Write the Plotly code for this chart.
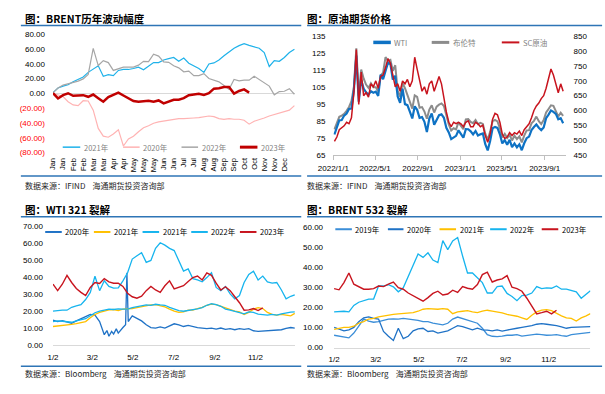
import plotly.graph_objects as go

W, H = 605, 394


def px(x):
    return x / W


def py(y):
    return 1 - y / H


# ---------------- Panel 1: BRENT yearly swing (trading-day index) ----------------
p1_index = [0, 5, 10, 15, 20, 25, 30, 35, 40, 45, 50, 55, 60, 65, 70, 75, 80, 85, 90, 95,
            100, 105, 110, 115, 120, 125, 130, 135, 140, 145, 150, 155, 160, 165, 170, 175,
            180, 185, 190, 195, 200, 205, 210, 215, 220, 225, 230, 235, 240]
p1_2021 = [1.0, 7.3, 9.9, 11.7, 15.7, 18.8, 22.3, 28.5, 32.9, 37.3, 23.2, 25.4, 24.1, 31.1,
           32.4, 32.4, 33.7, 35.5, 32.0, 36.4, 41.7, 41.7, 45.2, 47.0, 48.7, 43.4, 47.9, 40.8,
           37.3, 33.7, 28.5, 39.9, 41.2, 45.2, 50.9, 55.8, 61.1, 64.6, 67.2, 65.0, 63.3, 61.1,
           55.3, 36.4, 44.3, 43.4, 48.7, 55.3, 59.8]
p1_2020 = [0.0, -2.4, -4.2, -11.2, -15.6, -16.5, -9.9, -10.3, -22.7, -47.4, -57.9, -59.3,
           -54.9, -49.1, -71.2, -61.5, -57.9, -51.8, -46.5, -43.8, -40.3, -38.5, -37.2, -35.9,
           -35.0, -34.1, -34.1, -33.3, -33.3, -32.8, -31.5, -30.6, -31.5, -34.1, -35.0, -34.1,
           -35.0, -35.0, -36.3, -41.6, -37.7, -35.9, -33.3, -30.6, -28.4, -26.2, -24.4, -22.7,
           -16.5]
p1_2022 = [1.0, 7.3, 11.3, 13.0, 14.8, 16.6, 19.6, 25.8, 61.0, 37.7, 44.3, 41.7, 31.1, 33.3,
           35.5, 35.5, 35.5, 38.2, 43.4, 43.0, 53.1, 50.5, 42.6, 42.1, 37.3, 34.6, 29.3, 30.2,
           24.1, 24.1, 26.7, 20.1, 17.9, 15.7, 10.8, 5.5, 18.8, 17.0, 17.9, 17.9, 23.2, 18.8,
           13.5, 9.9, -1.9, 2.5, 2.9, 6.4, -1.1]
p1_2023 = [0.5, -6.8, -2.4, 0.2, -3.3, -3.3, -2.4, -4.6, -1.5, -6.4, -11.2, -5.0, -1.9, 1.1,
           -2.8, -6.8, -10.3, -11.2, -10.3, -9.9, -11.2, -9.5, -13.4, -11.2, -8.6, -8.6, -6.4,
           -2.4, -2.0, -0.6, -2.0, 0.2, 6.4, 6.9, 8.6, 8.6, -0.2, 3.3, 5.5, 1.1]
p1_tickvals = [0, 10, 20, 30, 40, 50, 60, 70, 80, 90, 100, 110, 120, 130, 140, 150, 160,
               170, 180, 190, 200, 210, 220, 230]
p1_months = ["Jan", "Jan", "Feb", "Feb", "Mar", "Mar", "Apr", "Apr", "May", "May", "May",
             "Jun", "Jun", "Jul", "Jul", "Aug", "Aug", "Sep", "Sep", "Oct", "Oct", "Nov",
             "Nov", "Dec"]
p1_yvals = [80, 60, 40, 20, 0, -20, -40, -60, -80]
p1_ylabels = ["80.00", "60.00", "40.00", "20.00", "0.00", "(20.00)", "(40.00)", "(60.00)",
              "(80.00)"]

# ---------------- Panel 2: crude futures prices (weekly, Tuesdays) ----------------
price_md_2022 = ["01-04", "01-11", "01-18", "01-25", "02-01", "02-08", "02-15", "02-22",
                 "03-01", "03-08", "03-15", "03-22", "03-29", "04-05", "04-12", "04-19",
                 "04-26", "05-03", "05-10", "05-17", "05-24", "05-31", "06-07", "06-14",
                 "06-21", "06-28", "07-05", "07-12", "07-19", "07-26", "08-02", "08-09",
                 "08-16", "08-23", "08-30", "09-06", "09-13", "09-20", "09-27", "10-04",
                 "10-11", "10-18", "10-25", "11-01", "11-08", "11-15", "11-22", "11-29",
                 "12-06", "12-13", "12-20", "12-27"]
price_md_2023 = ["01-03", "01-10", "01-17", "01-24", "01-31", "02-07", "02-14", "02-21",
                 "02-28", "03-07", "03-14", "03-21", "03-28", "04-04", "04-11", "04-18",
                 "04-25", "05-02", "05-09", "05-16", "05-23", "05-30", "06-06", "06-13",
                 "06-20", "06-27", "07-04", "07-11", "07-18", "07-25", "08-01", "08-08",
                 "08-15", "08-22", "08-29", "09-05", "09-12", "09-19", "09-26", "10-03",
                 "10-10", "10-17", "10-24"]
wti = [77.0, 81.2, 85.4, 85.6, 88.2, 89.4, 92.1, 92.4, 103.4, 123.7, 96.4, 109.3, 104.2,
       102.0, 100.6, 102.6, 101.7, 102.4, 99.8, 112.4, 109.8, 114.7, 119.4, 118.9, 109.5,
       111.8, 99.5, 95.8, 104.2, 95.0, 94.4, 90.5, 86.5, 93.7, 91.6, 86.9, 87.3, 84.5, 78.5,
       86.5, 89.4, 82.8, 85.3, 88.4, 88.9, 86.9, 81.0, 78.2, 74.3, 75.4, 76.2, 79.5,
       76.9, 75.1, 80.2, 80.1, 78.9, 77.1, 79.1, 76.4, 77.1, 77.6, 71.3, 67.6, 73.2, 80.7,
       81.5, 80.9, 77.1, 71.7, 73.7, 70.9, 73.9, 69.5, 71.7, 69.4, 71.2, 67.7, 71.8, 74.8,
       75.8, 79.6, 81.4, 82.9, 81.0, 79.6, 81.2, 86.7, 88.8, 91.2, 90.4, 89.2, 86.0, 86.7,
       83.7]
brent = [80.0, 83.7, 87.5, 88.2, 89.2, 91.0, 93.3, 96.8, 105.0, 128.0, 99.9, 115.5, 110.2,
         106.6, 104.6, 107.3, 105.0, 105.0, 102.5, 111.9, 113.6, 122.8, 120.6, 121.2, 114.7,
         118.0, 102.8, 99.5, 107.4, 104.4, 100.5, 96.3, 92.3, 100.2, 99.3, 92.8, 93.2, 90.6,
         86.3, 91.8, 94.3, 90.0, 93.5, 94.7, 95.4, 93.9, 88.4, 83.0, 79.4, 80.7, 80.0, 84.3,
         82.1, 80.1, 85.9, 86.1, 84.5, 83.7, 85.6, 83.1, 83.9, 83.3, 77.5, 73.8, 78.7, 84.9,
         85.6, 84.8, 80.8, 75.3, 77.4, 75.0, 76.8, 73.5, 76.3, 74.3, 75.9, 72.3, 76.3, 79.4,
         79.6, 83.6, 85.1, 87.6, 84.9, 83.2, 85.5, 90.0, 92.1, 94.3, 94.0, 90.9, 87.7, 89.9,
         88.1]
sc = [495, 510, 535, 540, 548, 560, 555, 575, 660, 806, 620, 730, 650, 660, 645, 690, 680,
      700, 675, 715, 720, 745, 775, 760, 720, 680, 690, 665, 700, 690, 705, 680, 700, 780,
      740, 700, 665, 680, 655, 690, 700, 665, 690, 715, 690, 640, 595, 560, 545, 560, 555,
      560,
      555, 545, 560, 565, 545, 545, 560, 555, 545, 550, 515, 492, 520, 570, 590, 585, 560,
      520, 505, 510, 525, 515, 525, 520, 530, 515, 535, 545, 555, 575, 600, 615, 625, 640,
      650, 675, 710, 740, 720, 690, 660, 690, 665]
p2_tickvals = ["2022-01-01", "2022-05-01", "2022-09-01", "2023-01-01", "2023-05-01",
               "2023-09-01"]
p2_ticktext = ["2022/1/1", "2022/5/1", "2022/9/1", "2023/1/1", "2023/5/1", "2023/9/1"]

# ---------------- Panel 3 / 4: crack spreads (days since 1/2) ----------------
crack_days = [0, 7, 14, 21, 28, 35, 42, 49, 56, 63, 70, 77, 84, 91, 98, 105, 112, 119, 126,
              133, 140, 147, 154, 161, 168, 175, 182, 189, 196, 203, 210, 217, 224, 231, 238,
              245, 252, 259, 266, 273, 280, 287, 294, 301, 308, 315, 322, 329, 336, 343, 350,
              357, 363]
crack_ticks = [0, 59, 120, 181, 243, 304]
crack_ticktext = ["1/2", "3/2", "5/2", "7/2", "9/2", "11/2"]

wti321_2020_days = [0, 7, 14, 21, 28, 35, 42, 49, 56, 63, 70, 74, 77, 81, 84, 88, 91, 95, 98,
                    105, 109, 111, 113, 119, 126, 133, 140, 147, 154, 161, 168, 175, 182, 189,
                    196, 203, 210, 217, 224, 231, 238, 245, 252, 259, 266, 273, 280, 287, 294,
                    301, 308, 315, 322, 329, 336, 343, 350, 357, 363]
wti321_2020 = [14.7, 13.8, 14.4, 13.4, 12.8, 14.2, 15.7, 16.7, 18.0, 17.6, 13.8, 9.0, 6.1,
               8.5, 5.2, 8.0, 6.5, 9.5, 7.0, 10.3, 12.0, 42.5, 13.8, 17.2, 15.7, 14.2, 11.9,
               10.3, 10.0, 10.7, 10.0, 11.1, 12.5, 11.9, 10.9, 11.5, 10.7, 10.3, 10.0, 9.6,
               10.0, 9.4, 10.0, 9.2, 9.6, 9.0, 9.6, 9.2, 9.6, 8.4, 8.0, 8.2, 8.4, 8.8, 9.2, 9.0,
               9.8, 10.3, 10.0]
wti321_2021 = [10.9, 11.1, 11.5, 11.9, 12.1, 12.6, 13.2, 13.8, 16.1, 18.0, 19.2, 19.9, 20.7,
               20.9, 20.3, 21.1, 21.1, 21.5, 22.0, 22.6, 23.4, 23.6, 23.8, 23.2, 22.4, 21.1,
               19.9, 19.2, 19.5, 20.5, 20.5, 21.5, 22.2, 23.4, 24.1, 23.8, 22.8, 21.8, 20.9,
               19.9, 19.5, 18.0, 19.2, 21.1, 22.0, 21.5, 19.2, 18.0, 17.6, 18.0, 17.6, 17.2,
               18.6]
wti321_2021b = [13.8, 14.2, 14.0, 13.8, 13.4, 14.2, 14.7, 15.5, 17.2, 19.0, 19.9, 20.7, 21.1,
                20.9, 21.3, 21.1, 21.1, 22.0, 22.6, 23.0, 23.6, 23.4, 24.0, 23.6, 23.4, 22.2,
                21.1, 20.3, 19.9, 20.3, 20.5, 21.3, 22.0, 23.4, 24.3, 23.8, 22.8, 21.1, 20.5,
                19.9, 19.2, 18.4, 19.5, 19.2, 18.2, 17.8, 17.6, 18.0, 17.6, 18.4, 19.0, 19.4,
                19.5]
wti321_2022 = [19.9, 20.3, 20.5, 20.5, 22.2, 23.0, 23.8, 26.8, 31.0, 40.5, 32.0, 37.8, 34.5,
               33.5, 33.7, 37.8, 42.5, 50.6, 52.5, 54.4, 48.7, 49.8, 56.9, 60.2, 58.8, 56.9,
               55.6, 49.8, 43.5, 44.8, 39.1, 38.3, 37.2, 39.7, 42.5, 33.9, 32.0, 34.5, 30.1,
               27.2, 29.1, 36.8, 41.6, 43.5, 38.3, 40.6, 37.2, 36.4, 36.8, 32.4, 27.2, 28.7,
               29.5]
wti321_2023 = [35.8, 32.0, 35.8, 41.0, 36.8, 33.3, 31.0, 29.1, 33.9, 36.8, 36.2, 39.1, 37.2,
               36.4, 36.4, 34.5, 30.5, 28.4, 27.6, 28.7, 32.0, 34.5, 32.4, 31.0, 34.9, 37.8,
               33.0, 33.9, 34.9, 37.4, 39.7, 40.6, 38.3, 42.5, 41.0, 36.4, 32.4, 34.3, 32.0,
               28.4, 24.9, 20.5, 20.7, 21.5, 20.3, 21.8]

b532_2019 = [6.2, 5.7, 5.2, 4.9, 7.3, 11.0, 14.3, 13.3, 12.7, 13.0, 13.6, 14.3, 14.4, 14.3,
             14.6, 14.3, 14.0, 13.6, 13.0, 13.0, 12.3, 11.7, 11.4, 12.2, 14.3, 15.3, 14.6,
             13.8, 13.0, 12.2, 9.7, 6.5, 5.7, 5.5, 5.8, 6.2, 6.2, 6.5, 5.8, 6.2, 6.5, 6.8, 6.5,
             6.2, 6.3, 6.5, 6.0, 5.7, 6.5, 6.8, 7.0, 7.3, 7.6]
b532_2020 = [10.1, 9.4, 8.4, 8.9, 10.1, 13.0, 14.9, 15.4, 14.6, 14.3, 8.1, 5.7, 3.6, 9.7, 4.5,
             5.7, 8.4, 9.4, 9.7, 8.1, 8.4, 7.3, 7.8, 8.4, 9.7, 11.0, 10.5, 9.7, 8.9, 9.7, 8.9,
             8.8, 8.4, 8.9, 8.3, 8.8, 9.1, 9.7, 10.1, 10.5, 11.0, 11.7, 12.0, 11.7, 11.4, 11.0,
             10.4, 9.7, 10.1, 10.2, 10.4, 10.5, 10.5]
b532_2021 = [9.1, 9.7, 10.1, 10.1, 10.7, 12.2, 13.0, 14.3, 14.6, 15.4, 15.9, 16.2, 16.6, 16.9,
             17.0, 17.2, 17.5, 18.2, 19.2, 19.5, 19.3, 19.2, 19.5, 19.2, 17.0, 17.9, 18.2,
             18.5, 17.9, 17.5, 18.2, 18.7, 18.3, 17.9, 17.4, 16.6, 16.2, 15.7, 14.9, 14.1,
             16.2, 17.9, 18.8, 19.0, 18.5, 17.0, 15.9, 14.9, 14.6, 13.3, 14.9, 15.9, 17.0]
b532_2022 = [17.9, 18.2, 18.2, 17.9, 21.1, 22.7, 23.7, 24.3, 24.3, 30.8, 30.8, 31.5, 30.4,
             27.9, 29.9, 35.7, 41.9, 46.8, 45.1, 47.4, 43.8, 42.5, 53.5, 49.0, 53.3, 55.0,
             45.8, 37.3, 37.3, 34.9, 32.5, 27.3, 27.3, 30.5, 30.8, 27.1, 25.6, 23.5, 26.0,
             26.3, 27.3, 30.5, 29.5, 29.9, 29.7, 30.8, 29.2, 29.2, 28.4, 27.9, 24.7, 26.8, 28.4]
b532_2023 = [29.5, 28.9, 32.5, 37.3, 31.7, 30.4, 29.2, 29.2, 29.5, 30.8, 30.5, 31.8, 32.8,
             30.0, 29.2, 27.3, 26.0, 24.3, 23.2, 25.0, 27.1, 28.2, 26.3, 26.8, 28.7, 27.6,
             30.5, 29.7, 29.2, 31.5, 36.5, 37.7, 32.8, 33.8, 34.4, 36.0, 30.2, 29.5, 28.2,
             24.7, 20.8, 16.9, 17.5, 18.2, 16.9, 18.7]

# ---------------- colours ----------------
C_SKY = "#1FB2EA"
C_PINK = "#FFB3B3"
C_GRAY = "#A6A6A6"
C_DRED = "#C00000"
C_WTI = "#0E72C4"
C_BRENT = "#8C8C8C"
C_SC = "#C8141E"
C_Y20 = "#1F72C6"
C_Y19 = "#3B8ED8"
C_YEL = "#FFC000"
C_LB = "#16B4EE"
C_RED = "#C8141E"
RULE = "#2E75B6"

FONT_NUM = "Liberation Sans, Arial, Noto Sans CJK SC"
FONT_CJK = "Noto Sans CJK SC, Liberation Sans"

fig = go.Figure()

# Panel 1 traces
fig.add_trace(go.Scatter(x=p1_index, y=p1_2021, name="2021年", mode="lines",
                         line=dict(color=C_SKY, width=1.2), xaxis="x", yaxis="y"))
fig.add_trace(go.Scatter(x=p1_index, y=p1_2020, name="2020年", mode="lines",
                         line=dict(color=C_PINK, width=1.2), xaxis="x", yaxis="y"))
fig.add_trace(go.Scatter(x=p1_index, y=p1_2022, name="2022年", mode="lines",
                         line=dict(color=C_GRAY, width=1.2), xaxis="x", yaxis="y"))
fig.add_trace(go.Scatter(x=p1_index[:len(p1_2023)], y=p1_2023, name="2023年", mode="lines",
                         line=dict(color=C_DRED, width=2.5), xaxis="x", yaxis="y"))

# Panel 2 traces
price_dates = ["2022-" + d for d in price_md_2022] + ["2023-" + d for d in price_md_2023]
fig.add_trace(go.Scatter(x=price_dates, y=brent, name="布伦特", mode="lines",
                         line=dict(color=C_BRENT, width=2.0), xaxis="x2", yaxis="y2"))
fig.add_trace(go.Scatter(x=price_dates, y=wti, name="WTI", mode="lines",
                         line=dict(color=C_WTI, width=2.2), xaxis="x2", yaxis="y2"))
fig.add_trace(go.Scatter(x=price_dates, y=sc, name="SC原油", mode="lines",
                         line=dict(color=C_SC, width=1.5), xaxis="x2", yaxis="y3"))

# Panel 3 traces
fig.add_trace(go.Scatter(x=wti321_2020_days, y=wti321_2020, name="2020年", mode="lines",
                         line=dict(color=C_Y20, width=1.3), xaxis="x3", yaxis="y4"))
fig.add_trace(go.Scatter(x=crack_days, y=wti321_2021, name="2021年", mode="lines",
                         line=dict(color=C_YEL, width=1.3), xaxis="x3", yaxis="y4"))
fig.add_trace(go.Scatter(x=crack_days, y=wti321_2021b, name="2021年", mode="lines",
                         line=dict(color=C_LB, width=1.3), xaxis="x3", yaxis="y4"))
fig.add_trace(go.Scatter(x=crack_days, y=wti321_2022, name="2022年", mode="lines",
                         line=dict(color=C_LB, width=1.3), xaxis="x3", yaxis="y4"))
fig.add_trace(go.Scatter(x=crack_days[:len(wti321_2023)], y=wti321_2023, name="2023年",
                         mode="lines", line=dict(color=C_RED, width=1.4), xaxis="x3", yaxis="y4"))

# Panel 4 traces
fig.add_trace(go.Scatter(x=crack_days, y=b532_2019, name="2019年", mode="lines",
                         line=dict(color=C_Y19, width=1.3), xaxis="x4", yaxis="y5"))
fig.add_trace(go.Scatter(x=crack_days, y=b532_2020, name="2020年", mode="lines",
                         line=dict(color=C_Y20, width=1.3), xaxis="x4", yaxis="y5"))
fig.add_trace(go.Scatter(x=crack_days, y=b532_2021, name="2021年", mode="lines",
                         line=dict(color=C_YEL, width=1.3), xaxis="x4", yaxis="y5"))
fig.add_trace(go.Scatter(x=crack_days, y=b532_2022, name="2022年", mode="lines",
                         line=dict(color=C_LB, width=1.3), xaxis="x4", yaxis="y5"))
fig.add_trace(go.Scatter(x=crack_days[:len(b532_2023)], y=b532_2023, name="2023年",
                         mode="lines", line=dict(color=C_RED, width=1.4), xaxis="x4", yaxis="y5"))

tickfont = dict(family=FONT_NUM, size=8, color="#000000")
p1_ticktext = [lab if v >= 0 else "<span style='color:#FF0000'>" + lab + "</span>"
               for v, lab in zip(p1_yvals, p1_ylabels)]

shapes = []
annotations = []


def hline(x0, x1, y, color, width):
    shapes.append(dict(type="line", xref="paper", yref="paper", x0=px(x0), x1=px(x1),
                       y0=py(y), y1=py(y), line=dict(color=color, width=width)))


def text(x, y, s, size, color="#000000", family=FONT_CJK, anchor="left"):
    annotations.append(dict(text=s, x=px(x), y=py(y), xref="paper", yref="paper",
                            xanchor=anchor, yanchor="middle", showarrow=False,
                            font=dict(family=family, size=size, color=color)))


def legend_item(x0, x1, y, color, width, label, tcolor):
    hline(x0, x1, y, color, width)
    text(x1 + 1.5, y, label, 7.5, tcolor, FONT_CJK)


# rules
for (a, b) in [(5, 293), (299, 602)]:
    hline(a, b, 22, RULE, 1.5)
    hline(a, b, 176, RULE, 1.5)
    hline(a, b, 217.7, RULE, 1.5)
    hline(a, b, 370.7, RULE, 1.5)

# titles
text(7, 15, "<b>图：BRENT历年波动幅度</b>", 10.5)
text(297, 15, "<b>图：原油期货价格</b>", 10.5)
text(7, 210, "<b>图：WTI 321 裂解</b>", 10.5)
text(297, 210, "<b>图：BRENT 532 裂解</b>", 10.5)

# sources
text(7, 185.5, "数据来源：IFIND    海通期货投资咨询部", 8, "#262626")
text(297, 185.5, "数据来源：IFIND    海通期货投资咨询部", 8, "#262626")
text(7, 378.5, "数据来源：Bloomberg    海通期货投资咨询部", 8, "#262626")
text(297, 378.5, "数据来源：Bloomberg    海通期货投资咨询部", 8, "#262626")

# legends panel 1
LG1 = "#7F7F7F"
legend_item(48, 66, 146.5, C_SKY, 1.5, "2021年", LG1)
legend_item(110, 127, 146.5, C_PINK, 1.5, "2020年", LG1)
legend_item(170, 187, 146.5, C_GRAY, 1.5, "2022年", LG1)
legend_item(230, 248, 146.5, C_DRED, 3, "2023年", LG1)
# legends panel 2
LG2 = "#7F7F7F"
legend_item(367, 385, 39.3, C_WTI, 3.5, "WTI", LG2)
legend_item(427, 445, 39.3, C_BRENT, 3, "布伦特", LG2)
legend_item(499, 517, 39.3, C_SC, 2, "SC原油", LG2)
# legends panel 3
legend_item(30, 47, 233.3, C_Y20, 2, "2020年", "#000000")
legend_item(80, 97, 233.3, C_YEL, 2, "2021年", "#000000")
legend_item(130, 147, 233.3, C_LB, 2, "2021年", "#000000")
legend_item(180, 197, 233.3, C_LB, 2, "2022年", "#000000")
legend_item(230, 247, 233.3, C_RED, 2, "2023年", "#000000")
# legends panel 4
legend_item(328, 345, 230.5, C_Y19, 2, "2019年", "#000000")
legend_item(382, 398, 230.5, C_Y20, 2, "2020年", "#000000")
legend_item(435, 452, 230.5, C_YEL, 2, "2021年", "#000000")
legend_item(487, 504, 230.5, C_LB, 2, "2022年", "#000000")
legend_item(540, 557, 230.5, C_RED, 2, "2023年", "#000000")

common_x = dict(showgrid=False, zeroline=False, fixedrange=True)
common_y = dict(showgrid=False, zeroline=False, fixedrange=True, ticks="")

fig.update_layout(
    width=W, height=H,
    margin=dict(l=0, r=0, t=0, b=0),
    paper_bgcolor="white", plot_bgcolor="rgba(0,0,0,0)",
    showlegend=False,
    hovermode=False,
    font=dict(family=FONT_NUM, size=8, color="#000000"),
    shapes=shapes,
    annotations=annotations,
    xaxis=dict(domain=[px(38), px(287)], range=[0, 241], anchor="y", tickmode="array",
               tickvals=p1_tickvals, ticktext=p1_months, tickangle=-90,
               tickfont=dict(family=FONT_NUM, size=7.5, color="#000000"),
               ticks="", showline=False, ticklabelstandoff=3, **common_x),
    yaxis=dict(domain=[py(152), py(31)], range=[-80, 80], anchor="x", tickmode="array",
               tickvals=p1_yvals, ticktext=p1_ticktext, tickfont=tickfont,
               ticklabelstandoff=7, showgrid=False, zeroline=True, zerolinecolor="#D9D9D9",
               zerolinewidth=1, fixedrange=True, ticks=""),
    xaxis2=dict(domain=[px(326), px(564.5)], type="date",
                range=["2022-01-01", "2023-10-31"], anchor="y2", tickmode="array",
                tickvals=p2_tickvals, ticktext=p2_ticktext, tickfont=tickfont,
                showline=True, linecolor="#BFBFBF", linewidth=1, ticks="outside",
                ticklen=4, tickcolor="#BFBFBF", ticklabelstandoff=2, **common_x),
    yaxis2=dict(domain=[py(154.3), py(33.3)], range=[65, 135], anchor="x2", tickmode="array",
                tickvals=[65, 75, 85, 95, 105, 115, 125, 135], tickfont=tickfont,
                ticklabelstandoff=7, **common_y),
    yaxis3=dict(range=[450, 850], anchor="x2", overlaying="y2", side="right",
                tickmode="array", tickvals=[450, 500, 550, 600, 650, 700, 750, 800, 850],
                tickfont=tickfont, ticklabelstandoff=7, **common_y),
    xaxis3=dict(domain=[px(38), px(287)], range=[0, 364], anchor="y4", tickmode="array",
                tickvals=crack_ticks, ticktext=crack_ticktext,
                tickfont=dict(family=FONT_NUM, size=8, color="#000000"),
                showline=True, linecolor="#D9D9D9", linewidth=1, ticks="",
                ticklabelstandoff=4, **common_x),
    yaxis4=dict(domain=[py(349), py(227.3)], range=[0, 70], anchor="x3", tickmode="array",
                tickvals=[0, 10, 20, 30, 40, 50, 60, 70], tickformat=".2f", tickfont=tickfont,
                ticklabelstandoff=9, **common_y),
    xaxis4=dict(domain=[px(326.7), px(590)], range=[0, 363], anchor="y5", tickmode="array",
                tickvals=crack_ticks, ticktext=crack_ticktext,
                tickfont=dict(family=FONT_NUM, size=8, color="#000000"),
                showline=True, linecolor="#D9D9D9", linewidth=1, ticks="",
                ticklabelstandoff=4, **common_x),
    yaxis5=dict(domain=[py(351.7), py(228.8)], range=[0, 60], anchor="x4", tickmode="array",
                tickvals=[0, 10, 20, 30, 40, 50, 60], tickformat=".2f", tickfont=tickfont,
                ticklabelstandoff=10, **common_y),
)

fig.write_html(
    "out.html",
    config={"displayModeBar": False, "staticPlot": True},
    post_script="document.body.style.margin='0px';document.body.style.overflow='hidden';",
)
